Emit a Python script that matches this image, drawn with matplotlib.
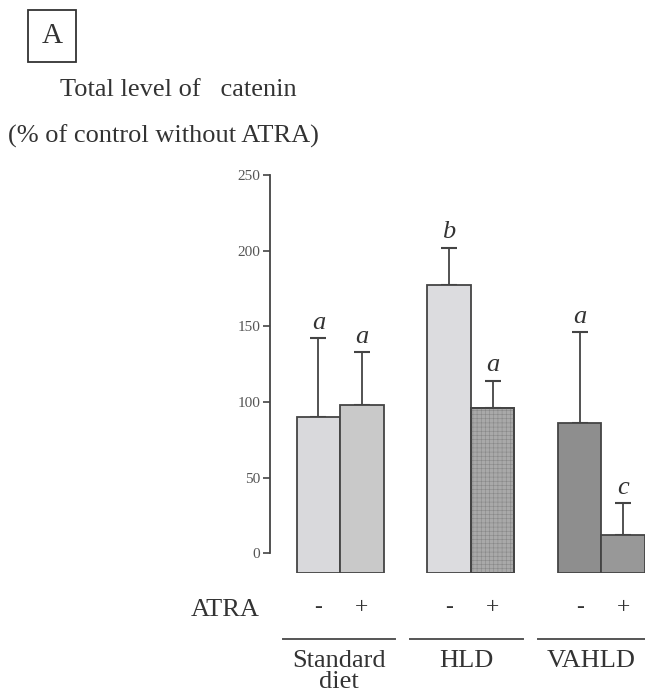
import numpy as np
import matplotlib.pyplot as plt
import matplotlib as mpl

mpl.rcParams['font.family'] = ['Liberation Serif', 'DejaVu Serif']
mpl.rcParams['hatch.linewidth'] = 0.4

# data
groups = ['Standard\ndiet', 'HLD', 'VAHLD']
atra = ['-', '+', '-', '+', '-', '+']
values = [90, 98, 177, 96, 86, 12]
errors = [52, 35, 25, 18, 60, 21]
letters = ['a', 'a', 'b', 'a', 'a', 'c']
colors = ['#d9d9dc', '#c9c9c9', '#dcdcdf', '#a9a9a9', '#8e8e8e', '#989898']

xpos = np.array([0, 1, 3, 4, 6, 7])
y0 = -13

fig = plt.figure(figsize=(6.45, 6.98), dpi=100)
W, H = 645, 698
# axes: left at 270px, right at 645px, bottom 573px, top 175px
ax = fig.add_axes([270 / W, 1 - 573 / H, 375 / W, (573 - 175) / H])

ax.bar(xpos, np.array(values) - y0, bottom=y0, width=1.0, color=colors,
       edgecolor='#444444', linewidth=1.3, zorder=2)
# fine hatch on the HLD + ATRA bar
ax.bar(xpos[3], values[3] - y0, bottom=y0, width=1.0, color='none',
       edgecolor='#888888', hatch='++++', linewidth=0, zorder=3)
ax.bar(xpos[3], values[3] - y0, bottom=y0, width=1.0, color='none',
       edgecolor='#444444', linewidth=1.3, zorder=4)
ax.errorbar(xpos, values, yerr=[np.zeros(len(values)), errors], fmt='none',
            ecolor='#444444', elinewidth=1.3, capsize=6, capthick=1.5, zorder=1)

for x, v, e, l in zip(xpos, values, errors, letters):
    ax.text(x, v + e + 3, l, ha='center', va='bottom', fontsize=19,
            style='italic', color='#333333')

ax.set_xlim(-1.11, 7.5)
ax.set_ylim(-13, 250)
ax.spines[['top', 'right', 'bottom']].set_visible(False)
ax.spines['left'].set_bounds(0, 250)
ax.spines['left'].set_linewidth(1.3)
ax.spines['left'].set_color('#444444')
ax.set_xticks([])
ax.set_yticks([0, 50, 100, 150, 200, 250])
ax.tick_params(axis='y', length=5, width=1.2, color='#444444',
               labelsize=11, labelcolor='#555555', pad=2)

def fx(px):
    return px / W

def fy(py):
    return 1 - py / H

# ATRA row
fig.text(fx(225), fy(610), 'ATRA', ha='center', va='center', fontsize=19,
         color='#333333')
for x, s in zip(xpos, atra):
    xd = ax.transData.transform((x, 0))[0]
    fig.text(xd / W, fy(608), s, ha='center', va='center', fontsize=17,
             color='#333333')

# group lines and names
spans = [(283, 395), (410, 523), (538, 645)]
for (a, b), g in zip(spans, groups):
    fig.add_artist(plt.Line2D([fx(a), fx(b)], [fy(639), fy(639)],
                              color='#555555', linewidth=1.4))
    fig.text(fx((a + b) / 2), fy(650), g, ha='center', va='top',
             fontsize=19, color='#333333', linespacing=0.92)

# panel label and y title
fig.text(fx(52), fy(36), 'A', ha='center', va='center', fontsize=21,
         color='#333333',
         bbox=dict(boxstyle='square,pad=0.45', facecolor='white',
                   edgecolor='#333333', linewidth=1.3))
fig.text(fx(178), fy(90), 'Total level of   catenin', ha='center',
         va='center', fontsize=19, color='#333333')
fig.text(fx(8), fy(136), '(% of control without ATRA)', ha='left',
         va='center', fontsize=19, color='#333333')

fig.savefig('out.png', dpi=100)
